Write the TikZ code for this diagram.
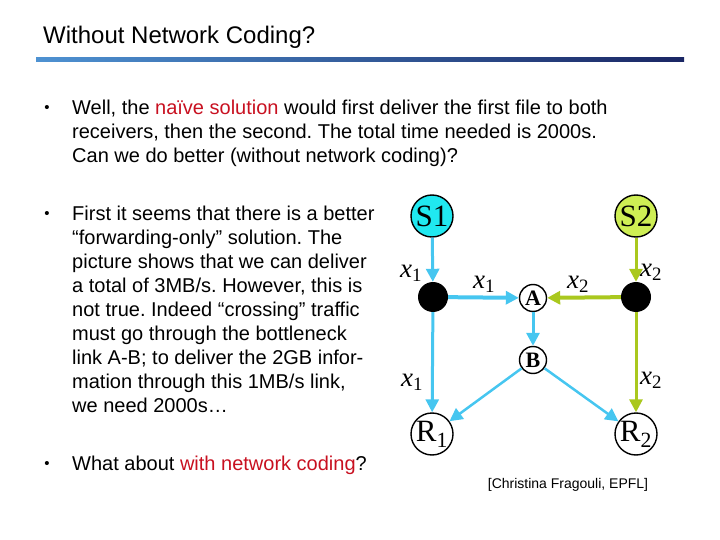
\documentclass[tikz,border=0pt]{standalone}
\usepackage{fontspec}
\setmainfont{Liberation Sans}
\newfontfamily\figserif{Liberation Serif}
\usetikzlibrary{arrows.meta}
\usepackage{xcolor}
\frenchspacing

\definecolor{barlight}{RGB}{78,146,210}
\definecolor{bardark}{RGB}{26,38,100}
\definecolor{hilite}{RGB}{200,16,32}
\definecolor{srcone}{RGB}{32,232,240}
\definecolor{srctwo}{RGB}{206,238,84}
\definecolor{flowblue}{RGB}{70,198,240}
\definecolor{flowgreen}{RGB}{170,200,30}

\newcommand{\xsym}[1]{{\figserif\itshape x}\textsubscript{\figserif #1}}

\begin{document}
\begin{tikzpicture}[x=1pt, y=-1pt, bodytext/.style={ anchor=north west, inner sep=0pt, align=left, font=\fontsize{20}{24}\selectfont }, dot/.style={ inner sep=0pt, font=\fontsize{15}{15}\selectfont }, endpt/.style={ circle, draw, line width=1.4pt, minimum size=42pt, inner sep=0pt, font=\figserif\fontsize{31}{31}\selectfont }, relay/.style={ circle, draw, line width=1.4pt, minimum size=27pt, inner sep=0pt, font=\figserif\bfseries\fontsize{22}{22}\selectfont }, junction/.style={ circle, fill=black, minimum size=30pt, inner sep=0pt }, blueflow/.style={ draw=flowblue, line width=3pt, -{Triangle[length=13pt, width=13pt]} }, greenflow/.style={ draw=flowgreen, line width=3pt, -{Triangle[length=13pt, width=13pt]} }, flowlabel/.style={ inner sep=0pt, font=\fontsize{27}{27}\selectfont } ]
\useasboundingbox (0,0) rectangle (720,540);

% --- Titolo ---
\node[anchor=base west, inner sep=0pt, font=\fontsize{24}{28}\selectfont] (title) at (43,44) {Without Network Coding?};
\shade[left color=barlight, right color=bardark] (36,58) rectangle (684,62);

% --- Elenco puntato ---
\node[dot] (bul1) at (47,109) {•};
\node[bodytext] (item1) at (72,100) {Well, the \textcolor{hilite}{naïve solution} would first deliver the first file to both\\ receivers, then the second. The total time needed is 2000s.\\ Can we do better (without network coding)?};

\node[dot] (bul2) at (47,215) {•};
\node[bodytext] (item2) at (72,206) {First it seems that there is a better\\ “forwarding-only” solution. The\\ picture shows that we can deliver\\ a total of 3MB/s. However, this is\\ not true. Indeed “crossing” traffic\\ must go through the bottleneck\\ link A-B; to deliver the 2GB infor-\\ mation through this 1MB/s link,\\ we need 2000s…};

\node[dot] (bul3) at (47,465) {•};
\node[bodytext] (item3) at (72,456) {What about \textcolor{hilite}{with network coding}?};

\node[inner sep=0pt, font=\fontsize{14}{16}\selectfont] (credit) at (568,485) {[Christina Fragouli, EPFL]};

% --- Rete ---
\node[endpt, fill=srcone] (s1) at (432,216) {S1};
\node[endpt, fill=srctwo] (s2) at (636,216) {S2};
\node[junction] (j1) at (433,297) {};
\node[junction] (j2) at (636,297) {};
\node[relay] (a) at (533,298) {A};
\node[relay] (b) at (533,360) {B};
\node[endpt] (r1) at (432,434) {R\textsubscript{1}};
\node[endpt] (r2) at (636,434) {R\textsubscript{2}};

% --- Collegamenti ---
\draw[blueflow] (s1) -- (j1);
\draw[blueflow, line width=4pt] (j1) -- (a);
\draw[blueflow] (j1) -- (r1);
\draw[blueflow] (a) -- (b);
\draw[blueflow, line width=2.5pt] (b) -- (r1);
\draw[blueflow, line width=2.5pt] (b) -- (r2);
\draw[greenflow] (s2) -- (j2);
\draw[greenflow, line width=4pt] (j2) -- (a);
\draw[greenflow] (j2) -- (r2);

% --- Etichette ---
\node[flowlabel] (l1) at (411,273) {\xsym{1}};
\node[flowlabel] (l2) at (484,284) {\xsym{1}};
\node[flowlabel] (l3) at (578,284) {\xsym{2}};
\node[flowlabel] (l4) at (651,272) {\xsym{2}};
\node[flowlabel] (l5) at (412,382) {\xsym{1}};
\node[flowlabel] (l6) at (651,380) {\xsym{2}};
\end{tikzpicture}
\end{document}
